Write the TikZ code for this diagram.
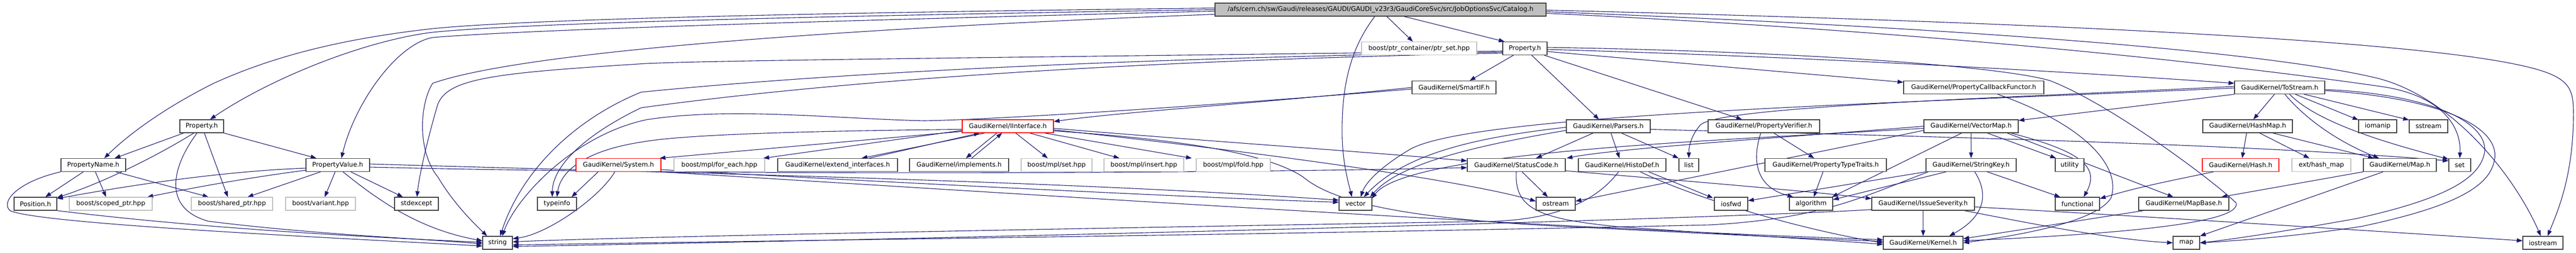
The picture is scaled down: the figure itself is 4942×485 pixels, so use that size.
\documentclass[tikz,border=0pt]{standalone}
\usepackage{fontspec}
\setmainfont{DejaVu Sans}
\usetikzlibrary{arrows.meta,calc}
\pgfdeclarelayer{bg}
\pgfsetlayers{bg,main}
\definecolor{edgeblue}{HTML}{191970}
\definecolor{greyb}{HTML}{BFBFBF}
\definecolor{darkb}{HTML}{404040}
\tikzset{
  nd/.style={draw=darkb, line width=1.2pt, fill=white, minimum height=25pt, inner sep=0pt, font=\fontsize{12.3}{14}\selectfont, text=black},
  extnd/.style={nd, draw=greyb},
  rednd/.style={nd, draw=red},
  rootnd/.style={nd, fill=greyb},
  e/.style={draw=edgeblue, line width=1.1pt, -{Triangle[length=11pt,width=8pt]}}
}
\begin{document}
\begin{tikzpicture}[x=1pt,y=-1pt]
\useasboundingbox (0,0) rectangle (4942,485);
% row 0
\node[rootnd,minimum width=635] (root) at (2648.5,18.5) {/afs/cern.ch/sw/Gaudi/releases/GAUDI/GAUDI\_v23r3/GaudiCoreSvc/src/JobOptionsSvc/Catalog.h};
% row 1
\node[extnd,minimum width=221] (ptrset) at (2722.5,93) {boost/ptr\_container/ptr\_set.hpp};
\node[nd,minimum width=85] (propT) at (2925.5,93) {Property.h};
% row 2
\node[nd,minimum width=161] (smartif) at (2789.5,168) {GaudiKernel/SmartIF.h};
\node[nd,minimum width=269] (propcb) at (3786.5,168) {GaudiKernel/PropertyCallbackFunctor.h};
\node[nd,minimum width=173] (tostream) at (4373.5,168) {GaudiKernel/ToStream.h};
% row 3
\node[nd,minimum width=84] (propL) at (387,242.5) {Property.h};
\node[rednd,minimum width=175] (iinterface) at (1933.5,242.5) {GaudiKernel/IInterface.h};
\node[nd,minimum width=161] (parsers) at (3085.5,242.5) {GaudiKernel/Parsers.h};
\node[nd,minimum width=214] (propverif) at (3384,242.5) {GaudiKernel/PropertyVerifier.h};
\node[nd,minimum width=181] (vectormap) at (3781.5,242.5) {GaudiKernel/VectorMap.h};
\node[nd,minimum width=172] (hashmap) at (4312,242.5) {GaudiKernel/HashMap.h};
\node[nd,minimum width=73] (iomanip) at (4561.5,242.5) {iomanip};
\node[nd,minimum width=74] (sstream) at (4659,242.5) {sstream};
% row 4
\node[nd,minimum width=124] (pname) at (179,317) {PropertyName.h};
\node[nd,minimum width=122] (pvalue) at (648,317) {PropertyValue.h};
\node[rednd,minimum width=163] (system) at (1186.5,317) {GaudiKernel/System.h};
\node[extnd,minimum width=174] (foreach) at (1380,317) {boost/mpl/for\_each.hpp};
\node[nd,minimum width=230] (extend) at (1607,317) {GaudiKernel/extend\_interfaces.h};
\node[nd,minimum width=190] (implements) at (1840,317) {GaudiKernel/implements.h};
\node[extnd,minimum width=136] (mplset) at (2027,317) {boost/mpl/set.hpp};
\node[extnd,minimum width=153] (mplinsert) at (2194.5,317) {boost/mpl/insert.hpp};
\node[extnd,minimum width=142] (mplfold) at (2366,317) {boost/mpl/fold.hpp};
\node[nd,minimum width=188] (statuscode) at (2909,317) {GaudiKernel/StatusCode.h};
\node[nd,minimum width=168] (histodef) at (3112,317) {GaudiKernel/HistoDef.h};
\node[nd,minimum width=38] (list) at (3240,317) {list};
\node[nd,minimum width=233] (ptraits) at (3502.5,317) {GaudiKernel/PropertyTypeTraits.h};
\node[nd,minimum width=173] (stringkey) at (3781.5,317) {GaudiKernel/StringKey.h};
\node[nd,minimum width=55] (utility) at (3970.5,317) {utility};
\node[rednd,minimum width=147] (hash) at (4298.5,317) {GaudiKernel/Hash.h};
\node[extnd,minimum width=113] (exthash) at (4453.5,317) {ext/hash\_map};
\node[nd,minimum width=140] (maph) at (4604,317) {GaudiKernel/Map.h};
\node[nd,minimum width=42] (set) at (4719,317) {set};
% row 5
\node[nd,minimum width=82] (position) at (68,391.5) {Position.h};
\node[extnd,minimum width=159] (scoped) at (212.5,391.5) {boost/scoped\_ptr.hpp};
\node[extnd,minimum width=156] (shared) at (445,391.5) {boost/shared\_ptr.hpp};
\node[extnd,minimum width=134] (variant) at (615,391.5) {boost/variant.hpp};
\node[nd,minimum width=84] (stdexcept) at (799,391.5) {stdexcept};
\node[nd,minimum width=75] (typeinfo) at (1068.5,391.5) {typeinfo};
\node[nd,minimum width=63] (vector) at (2600.5,391.5) {vector};
\node[nd,minimum width=75] (ostream) at (2984.5,391.5) {ostream};
\node[nd,minimum width=64] (iosfwd) at (3321,391.5) {iosfwd};
\node[nd,minimum width=83] (algorithm) at (3474.5,391.5) {algorithm};
\node[nd,minimum width=197] (issue) at (3689.5,391.5) {GaudiKernel/IssueSeverity.h};
\node[nd,minimum width=85] (functional) at (3985.5,391.5) {functional};
\node[nd,minimum width=173] (mapbase) at (4189.5,391.5) {GaudiKernel/MapBase.h};
% row 6
\node[nd,minimum width=57] (string) at (954.5,466.5) {string};
\node[nd,minimum width=153] (kernel) at (3689.5,466.5) {GaudiKernel/Kernel.h};
\node[nd,minimum width=51] (map) at (4194.5,466.5) {map};
\node[nd,minimum width=77] (iostream) at (4878.5,466.5) {iostream};

\begin{pgfonlayer}{bg}
% ---- root
\draw[e] ($(root.west)+(0,-3)$) .. controls (1500,25) and (1000,38) .. (830,55) .. controls (650,75) and (520,110) .. (410,160) .. controls (320,205) and (250,255) .. ($(pname.north)+(21,0)$);
\draw[e] (root.west) .. controls (1500,32) and (1000,45) .. (830,62) .. controls (700,78) and (520,150) .. ($(propL.north)+(16,0)$);
\draw[e] ($(root.west)+(0,3)$) .. controls (1500,42) and (1000,58) .. (830,72) .. controls (760,85) and (680,200) .. ($(pvalue.north)+(7,0)$);
\draw[e] ($(root.west)+(0,9)$) .. controls (1600,55) and (1000,100) .. (830,160) .. controls (805,200) and (800,290) .. (840,340) .. controls (870,390) and (905,425) .. ($(string.north)+(-20,0)$);
\draw[e] ($(root.south)+(-11,0)$) .. controls (2585,100) and (2573,180) .. (2575,267) .. controls (2577,320) and (2588,355) .. ($(vector.north)+(-7,0)$);
\draw[e] ($(root.south)+(12,0)$) -- ($(ptrset.north)+(-12,0)$);
\draw[e] ($(root.south)+(45,0)$) -- ($(propT.north west)+(4,0)$);
\draw[e] ($(root.east)+(0,1)$) .. controls (3800,40) and (4500,70) .. (4780,115) .. controls (4930,140) and (4937,160) .. (4937,220) .. controls (4937,340) and (4905,410) .. ($(iostream.north)+(9,0)$);
\draw[e] ($(root.east)+(0,4)$) .. controls (3800,55) and (4350,100) .. (4560,150) .. controls (4700,185) and (4820,330) .. ($(iostream.north)+(-4,0)$);
\draw[e] ($(root.east)+(0,7)$) .. controls (3800,65) and (4350,135) .. (4560,165) .. controls (4680,180) and (4722,240) .. (set.north);

% ---- Property.h (top)
\draw[e] ($(propT.south)+(-22,0)$) -- ($(smartif.north)+(30,0)$);
\draw[e] ($(propT.south)+(13,0)$) -- ($(parsers.north)+(-18,0)$);
\draw[e] ($(propT.south east)+(-6,0)$) -- ($(propverif.north)+(-42,0)$);
\draw[e] ($(propT.east)+(0,6)$) -- ($(propcb.west)+(0,-10)$);
\draw[e] ($(propT.east)+(0,2)$) .. controls (3500,110) and (4000,140) .. ($(tostream.west)+(0,-8)$);
\draw[e] ($(propT.east)+(0,-2)$) .. controls (3500,100) and (3850,130) .. (3933,155) .. controls (4050,200) and (4250,350) .. (4290,390) .. controls (4300,430) and (4050,450) .. ($(kernel.east)+(0,-4)$);
\draw[e] ($(propT.west)+(0,5)$) .. controls (2000,110) and (1400,115) .. (1240,122) .. controls (950,140) and (860,150) .. (840,200) .. controls (825,250) and (805,330) .. ($(stdexcept.north)+(1,0)$);
\draw[e] ($(propT.west)+(0,7)$) .. controls (2000,115) and (1500,150) .. (1230,177) .. controls (1100,230) and (1000,330) .. ($(string.north)+(5,0)$);
\draw[e] ($(propT.west)+(0,9)$) .. controls (2000,120) and (1500,170) .. (1230,207) .. controls (1120,260) and (1060,320) .. ($(typeinfo.north)+(-9,0)$);

% ---- SmartIF
\draw[e] (smartif.west) .. controls (2400,200) and (2150,215) .. ($(iinterface.east)+(0,-9)$);
\draw[e] ($(smartif.west)+(0,3)$) .. controls (2300,205) and (1900,230) .. (1773,232) .. controls (1600,228) and (1400,205) .. (1240,230) .. controls (1100,260) and (990,380) .. ($(string.north)+(9,0)$);

% ---- IInterface
\draw[e] ($(iinterface.west)+(0,6)$) .. controls (1500,252) and (1300,260) .. (1230,273) .. controls (1120,290) and (1075,330) .. (typeinfo.north);
\draw[e] ($(iinterface.west)+(0,10)$) -- ($(system.north east)+(-3,0)$);
\draw[e] ($(iinterface.west)+(0,8)$) -- ($(foreach.north east)+(-3,0)$);
\draw[e] ($(iinterface.south)+(-44,0)$) -- ($(extend.north)+(46,0)$);
\draw[e] ($(extend.north)+(60,0)$) -- ($(iinterface.south)+(-54,0)$);
\draw[e] ($(iinterface.south)+(-21,0)$) -- ($(implements.north)+(13,0)$);
\draw[e] ($(implements.north)+(24,0)$) -- ($(iinterface.south)+(-11,0)$);
\draw[e] ($(iinterface.south)+(15,0)$) -- ($(mplset.north)+(-17,0)$);
\draw[e] ($(iinterface.south)+(42,0)$) -- ($(mplinsert.north)+(-47,0)$);
\draw[e] ($(iinterface.south east)+(-18,0)$) -- ($(mplfold.north west)+(-8,0)$);
\draw[e] ($(iinterface.east)+(0,4)$) .. controls (2300,270) and (2600,290) .. ($(statuscode.west)+(0,-8)$);
\draw[e] ($(iinterface.east)+(0,7)$) .. controls (2400,290) and (2800,345) .. ($(ostream.west)+(0,-5)$);
\draw[e] ($(iinterface.east)+(0,9)$) .. controls (2300,270) and (2440,300) .. (2500,340) .. controls (2560,390) and (2700,420) .. (3000,435) .. controls (3300,450) and (3500,460) .. ($(kernel.west)+(0,-3)$);

% ---- System
\draw[e] ($(system.south)+(-39,0)$) -- ($(typeinfo.north east)+(-10,0)$);
\draw[e] ($(system.south)+(-7,0)$) .. controls (1150,380) and (1050,450) .. ($(string.east)+(0,-8)$);
\draw[e] ($(system.south east)+(-2,0)$) .. controls (2000,375) and (3000,440) .. ($(kernel.west)+(0,-6)$);
\draw[e] ($(system.east)+(0,9)$) .. controls (1700,350) and (2300,380) .. ($(vector.west)+(0,-3)$);

% ---- PropertyValue
\draw[e] ($(pvalue.west)+(0,6)$) .. controls (400,330) and (200,365) .. ($(position.east)+(0,-10)$);
\draw[e] ($(pvalue.west)+(0,10)$) .. controls (450,345) and (350,365) .. ($(scoped.north east)+(-10,0)$);
\draw[e] ($(pvalue.south)+(-33,0)$) -- ($(shared.north)+(30,0)$);
\draw[e] ($(pvalue.south)+(-5,0)$) -- ($(variant.north)+(8,0)$);
\draw[e] ($(pvalue.south)+(25,0)$) -- ($(stdexcept.north)+(-26,0)$);
\draw[e] ($(pvalue.south)+(10,0)$) .. controls (720,380) and (800,440) .. ($(string.west)+(0,-4)$);
\draw[e] ($(pvalue.east)+(0,-2)$) .. controls (1200,330) and (2000,345) .. ($(vector.west)+(0,-7)$);
\draw[e] ($(pvalue.east)+(0,4)$) .. controls (1500,340) and (2500,330) .. ($(statuscode.west)+(0,5)$);

% ---- Property.h (left)
\draw[e] ($(propL.south west)+(8,0)$) -- ($(pname.north)+(41,0)$);
\draw[e] ($(propL.south)+(-15,0)$) .. controls (300,300) and (200,350) .. ($(position.east)+(0,-12)$);
\draw[e] ($(propL.south)+(-9,0)$) .. controls (330,320) and (310,400) .. (400,425) .. controls (600,450) and (800,458) .. ($(string.west)+(0,2)$);
\draw[e] ($(propL.south)+(5,0)$) -- ($(shared.north)+(-8,0)$);
\draw[e] (propL.south east) -- ($(pvalue.north)+(-41,0)$);

% ---- PropertyName
\draw[e] ($(pname.south)+(-19,0)$) -- ($(position.north)+(19,0)$);
\draw[e] ($(pname.south)+(4,0)$) -- ($(scoped.north)+(-9,0)$);
\draw[e] ($(pname.south)+(43,0)$) -- ($(shared.north)+(-45,0)$);
\draw[e] (pname.south west) .. controls (30,350) and (0,390) .. (20,405) .. controls (80,430) and (600,455) .. ($(string.west)+(0,6)$);

% ---- Position
\draw[e] (position.south east) .. controls (400,440) and (700,455) .. ($(string.west)+(0,-1)$);

% ---- Parsers
\draw[e] ($(parsers.south)+(-29,0)$) -- ($(statuscode.north)+(38,0)$);
\draw[e] ($(parsers.south)+(5,0)$) -- ($(histodef.north)+(-5,0)$);
\draw[e] ($(parsers.south)+(25,0)$) -- (list.north west);
\draw[e] ($(parsers.west)+(0,8)$) .. controls (2800,285) and (2680,320) .. ($(vector.north east)+(-4,0)$);
\draw[e] ($(parsers.west)+(0,2)$) .. controls (2850,262) and (2700,290) .. ($(vector.north)+(16,0)$);
\draw[e] ($(parsers.east)+(0,6)$) .. controls (3600,260) and (4300,275) .. ($(set.west)+(0,-8)$);

% ---- HistoDef
\draw[e] ($(histodef.south)+(-7,0)$) .. controls (3060,390) and (2980,420) .. (2870,425) .. controls (2000,440) and (1200,455) .. ($(string.east)+(0,-2)$);
\draw[e] ($(histodef.south)+(51,0)$) -- ($(iosfwd.north west)+(-2,2)$);
\draw[e] ($(histodef.south)+(35,0)$) .. controls (3250,380) and (3450,440) .. (kernel.west);

% ---- StatusCode
\draw[e] ($(statuscode.south)+(11,0)$) -- ($(ostream.north)+(-15,0)$);
\draw[e] (statuscode.south) .. controls (2905,400) and (2950,420) .. (3100,435) .. controls (3300,450) and (3500,460) .. ($(kernel.west)+(0,3)$);
\draw[e] ($(statuscode.south east)+(0,-2)$) .. controls (3200,345) and (3450,365) .. ($(issue.west)+(0,-10)$);

% ---- PropertyVerifier / TypeTraits
\draw[e] ($(propverif.south)+(19,0)$) -- ($(ptraits.north)+(-22,0)$);
\draw[e] ($(propverif.south)+(-6,0)$) .. controls (3360,310) and (3370,360) .. ($(algorithm.north west)+(8,0)$);
\draw[e] ($(ptraits.south)+(-5,0)$) -- ($(algorithm.north)+(5,0)$);

% ---- VectorMap
\draw[e] (vectormap.south) -- (stringkey.north);
\draw[e] ($(vectormap.south)+(31,0)$) -- ($(utility.north west)+(2,0)$);
\draw[e] ($(vectormap.south east)+(-15,0)$) .. controls (3990,290) and (4030,320) .. ($(functional.north)+(12,0)$);
\draw[e] ($(vectormap.south east)+(-22,0)$) -- ($(mapbase.north)+(-20,0)$);
\draw[e] ($(vectormap.south)+(-18,0)$) -- ($(algorithm.north east)+(-2,0)$);
\draw[e] ($(vectormap.west)+(0,8)$) .. controls (3500,290) and (3200,350) .. ($(ostream.east)+(0,-5)$);
\draw[e] ($(vectormap.west)+(0,4)$) .. controls (3300,270) and (2700,290) .. ($(vector.north east)+(-1,3)$);
\draw[e] (vectormap.west) .. controls (3450,262) and (3100,285) .. ($(statuscode.north east)+(2,0)$);

% ---- StringKey
\draw[e] ($(stringkey.south)+(31,0)$) -- ($(functional.north west)+(10,0)$);
\draw[e] ($(stringkey.south)+(7,0)$) .. controls (3820,380) and (3800,420) .. ($(kernel.north)+(50,0)$);
\draw[e] ($(stringkey.south)+(-48,0)$) -- ($(algorithm.east)+(0,-8)$);
\draw[e] (stringkey.south west) -- ($(iosfwd.east)+(0,-6)$);
\draw[e] ($(stringkey.south west)+(5,0)$) .. controls (3580,375) and (3500,420) .. (3280,432) .. controls (2500,450) and (1500,462) .. ($(string.east)+(0,4)$);

% ---- IssueSeverity
\draw[e] (issue.south) -- (kernel.north);
\draw[e] ($(issue.south west)+(0,-2)$) .. controls (3300,420) and (2000,455) .. ($(string.east)+(0,7)$);
\draw[e] ($(issue.east)+(0,6)$) .. controls (4100,415) and (4500,440) .. ($(iostream.west)+(0,-4)$);
\draw[e] ($(issue.south east)+(-20,0)$) .. controls (3900,430) and (4050,460) .. (map.west);

% ---- Hash / HashMap / Map / MapBase
\draw[e] ($(hash.south west)+(22,0)$) .. controls (4150,350) and (4100,360) .. ($(functional.east)+(0,-10)$);
\draw[e] ($(hashmap.south)+(-2,0)$) -- ($(hash.north)+(3,0)$);
\draw[e] ($(hashmap.south)+(23,0)$) -- ($(exthash.north)+(-23,0)$);
\draw[e] ($(hashmap.south)+(48,0)$) -- ($(maph.north)+(-50,0)$);
\draw[e] (maph.south west) -- ($(mapbase.north east)+(-15,0)$);
\draw[e] ($(maph.south)+(-32,0)$) -- (map.north east);
\draw[e] ($(mapbase.south west)+(10,0)$) -- ($(kernel.east)+(0,-8)$);

% ---- PropertyCallbackFunctor
\draw[e] ($(propcb.south)+(46,0)$) .. controls (4000,240) and (4070,320) .. (4050,380) .. controls (4020,430) and (3850,455) .. (kernel.east);

% ---- ToStream
\draw[e] ($(tostream.south)+(-10,0)$) -- ($(hashmap.north)+(11,0)$);
\draw[e] (tostream.south west) -- ($(vectormap.north east)+(0,2)$);
\draw[e] ($(tostream.south)+(30,0)$) -- ($(iomanip.north west)+(0,1)$);
\draw[e] ($(tostream.south)+(47,0)$) -- ($(sstream.north west)+(0,1)$);
\draw[e] ($(tostream.south)+(19,0)$) .. controls (4450,240) and (4600,280) .. ($(set.north west)+(0,2)$);
\draw[e] ($(tostream.south)+(10,0)$) .. controls (4420,225) and (4480,270) .. ($(maph.north)+(-40,0)$);
\draw[e] ($(tostream.east)+(0,4)$) .. controls (4650,180) and (4770,230) .. (4767,290) .. controls (4760,340) and (4700,380) .. (4520,420) .. controls (4380,445) and (4280,460) .. (map.east);
\draw[e] ($(tostream.east)+(0,6)$) .. controls (4700,190) and (4800,250) .. (4785,310) .. controls (4775,355) and (4720,395) .. (4530,435) .. controls (4400,455) and (4280,463) .. (map.east);
\draw[e] ($(tostream.west)+(0,-2)$) .. controls (3800,190) and (3300,205) .. (3262,240) .. controls (3245,260) and (3240,280) .. (list.north);
\draw[e] ($(tostream.west)+(0,1)$) .. controls (3600,200) and (2800,220) .. (2700,290) .. controls (2650,320) and (2620,350) .. ($(vector.north)+(10,0)$);
\end{pgfonlayer}
\end{tikzpicture}
\end{document}
